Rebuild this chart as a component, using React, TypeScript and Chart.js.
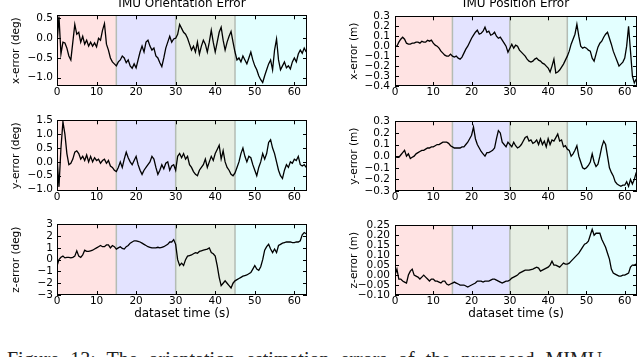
import React, { useEffect, useRef } from "react";
import { Chart, registerables } from "chart.js";

Chart.register(...registerables);

const FONT = "'DejaVu Sans', sans-serif";
const TIME_STEP = 0.5;
const X_MIN = 0;
const X_MAX = 63.2;
const X_TICKS = [0, 10, 20, 30, 40, 50, 60];
const X_LABEL = "dataset time (s)";
const REGION_EDGES = [0, 15, 30, 45, 63.2];
const REGION_COLORS = ["#ffe3e3", "#e3e3ff", "#e6eee3", "#e3ffff"];
const SEPARATOR_COLOR = "#b4bcb4";

const TITLE_LEFT = "IMU Orientation Error";
const TITLE_RIGHT = "IMU Position Error";
const CAPTION = "Figure 13: The orientation estimation errors of the proposed MIMU";

// sampled every 0.5 s from t = 0
const ORIENT_X_ERR = [
  -0.15, 0.55, -0.4, -0.1, -0.12, -0.25, -0.45, -0.55, -0.1, 0.35,
  0.1, 0.15, -0.1, 0.05, -0.15, -0.05, -0.2, -0.1, -0.2, -0.12,
  -0.22, 0.0, -0.05, 0.2, 0.37, -0.15, -0.3, -0.5, -0.6, -0.65,
  -0.7, -0.6, -0.55, -0.45, -0.5, -0.62, -0.55, -0.7, -0.76, -0.65,
  -0.75, -0.55, -0.35, -0.2, -0.35, -0.1, -0.05, -0.2, -0.3, -0.25,
  -0.45, -0.5, -0.62, -0.72, -0.5, -0.25, -0.1, 0.05, -0.1, -0.02,
  0.0, 0.1, 0.35, 0.25, 0.15, 0.1, 0.0, -0.15, -0.3, -0.2,
  -0.35, -0.1, -0.4, -0.2, -0.05, -0.15, -0.35, -0.1, 0.2, -0.1,
  -0.35, -0.1, 0.15, 0.28, -0.05, -0.3, -0.1, 0.05, 0.17, -0.1,
  -0.35, -0.55, -0.5, -0.6, -0.45, -0.55, -0.65, -0.5, -0.35, -0.55,
  -0.7, -0.8, -0.95, -1.05, -1.12, -0.95, -0.8, -0.65, -0.55, -0.8,
  -0.3, -0.02, -0.55, -0.8, -0.7, -0.6, -0.75, -0.7, -0.78, -0.6,
  -0.5, -0.6, -0.4, -0.3, -0.38, -0.25, -0.35,
];
const ORIENT_Y_ERR = [
  0.18, -0.9, 0.5, 1.45, 1.0, 0.3, -0.1, -0.05, 0.1, 0.35,
  0.4, 0.3, 0.1, 0.2, 0.05, 0.25, 0.0, 0.2, 0.0, 0.15,
  0.05, 0.1, -0.05, 0.05, 0.1, -0.05, 0.05, -0.15, -0.2, -0.3,
  -0.35, -0.2, 0.0, -0.2, 0.1, 0.35, 0.15, 0.0, -0.1, 0.05,
  0.2, -0.1, -0.3, -0.45, -0.3, -0.2, -0.1, 0.0, 0.2, 0.1,
  -0.2, -0.45, -0.3, -0.1, -0.25, -0.05, 0.0, -0.3, -0.15, -0.1,
  -0.3, 0.2, 0.3, 0.15, 0.3, 0.1, 0.2, -0.1, -0.2, -0.35,
  -0.45, -0.5, -0.3, -0.2, -0.1, 0.1, -0.2, 0.0, 0.2, 0.05,
  0.3, 0.45, 0.6, 0.1, 0.4, 0.0, -0.2, -0.3, -0.45, -0.5,
  -0.4, -0.2, 0.0, 0.3, 0.5, 0.2, 0.0, 0.2, 0.15, -0.1,
  -0.3, -0.5, -0.2, 0.0, 0.3, 0.1, 0.3, 0.7, 0.8, 0.5,
  0.3, 0.0, -0.3, -0.5, -0.6, -0.3, -0.1, -0.2, 0.0, -0.05,
  0.1, 0.05, 0.2, -0.1, -0.15, -0.1, -0.2,
];
const ORIENT_Z_ERR = [
  -0.55, 0.0, 0.2, 0.3, 0.15, 0.2, 0.2, 0.15, 0.2, 0.3,
  0.75, 0.3, 0.2, 0.4, 0.8, 0.7, 0.7, 0.75, 0.8, 0.9,
  1.0, 1.1, 1.2, 1.1, 1.1, 1.25, 1.25, 1.0, 1.2, 1.1,
  0.9, 1.0, 1.1, 0.95, 0.9, 1.1, 1.2, 1.4, 1.5, 1.6,
  1.6, 1.55, 1.5, 1.4, 1.3, 1.2, 1.1, 1.05, 1.0, 1.0,
  1.0, 1.05, 1.0, 1.05, 1.1, 1.2, 1.3, 1.5, 1.5, 1.7,
  1.3, 0.0, -0.5, -0.3, -0.5, 0.0, 0.3, 0.35, 0.4, 0.5,
  0.6, 0.55, 0.7, 0.75, 0.8, 0.85, 0.9, 1.0, 0.6, 0.5,
  0.3, -0.5, -1.5, -2.2, -2.0, -1.8, -2.0, -2.2, -2.4, -2.0,
  -1.8, -1.7, -1.6, -1.5, -1.4, -1.35, -1.3, -1.2, -1.1, -0.8,
  -0.5, -0.8, -0.9, -0.6, 0.0, 0.8, 1.1, 1.3, 0.9, 0.6,
  0.9, 0.6, 1.2, 1.3, 1.4, 1.45, 1.5, 1.5, 1.5, 1.45,
  1.45, 1.5, 1.5, 1.6, 2.1, 2.3, 2.2,
];
const POS_X_ERR = [
  0.0, 0.0, 0.04, 0.07, 0.09, 0.07, 0.03, 0.02, 0.02, 0.03,
  0.03, 0.04, 0.04, 0.03, 0.05, 0.04, 0.04, 0.06, 0.05, 0.06,
  0.03, 0.01, 0.0, -0.02, -0.05, -0.07, -0.09, -0.1, -0.1, -0.08,
  -0.1, -0.11, -0.1, -0.12, -0.13, -0.11, -0.07, -0.03, 0.0, 0.04,
  0.08, 0.11, 0.14, 0.16, 0.12, 0.13, 0.15, 0.19, 0.14, 0.15,
  0.11, 0.12, 0.14, 0.1, 0.08, 0.09, 0.06, 0.03, 0.0, -0.06,
  -0.02, 0.02, -0.02, 0.01, 0.0, -0.04, -0.06, -0.08, -0.1, -0.13,
  -0.15, -0.16, -0.15, -0.13, -0.12, -0.14, -0.15, -0.17, -0.18, -0.2,
  -0.22, -0.26, -0.2, -0.13, -0.27, -0.26, -0.24, -0.21, -0.18, -0.14,
  -0.1, -0.05, 0.02, 0.07, 0.12, 0.22, 0.1, 0.0, -0.02, -0.01,
  -0.02, -0.04, -0.05, -0.12, -0.15, -0.08, -0.01, 0.03, 0.05, 0.09,
  0.12, 0.14, 0.08, 0.02, -0.05, -0.1, -0.15, -0.2, -0.18, -0.16,
  -0.12, 0.0, 0.2, -0.05, -0.3, -0.37, -0.33,
];
const POS_Y_ERR = [
  0.0, -0.01, -0.01, 0.01, 0.03, 0.05, 0.0, 0.02, -0.02, -0.01,
  0.0, 0.02, 0.03, 0.04, 0.05, 0.05, 0.06, 0.07, 0.07, 0.08,
  0.08, 0.09, 0.1, 0.1, 0.11, 0.12, 0.12, 0.12, 0.11, 0.09,
  0.08, 0.07, 0.07, 0.07, 0.07, 0.08, 0.08, 0.1, 0.12, 0.15,
  0.18, 0.25, 0.15, 0.1, 0.07, 0.04, 0.02, 0.0, 0.03, 0.03,
  0.04, 0.05, 0.07, 0.15, 0.22, 0.2, 0.12, 0.1, 0.08, 0.12,
  0.1, 0.08, 0.12, 0.09, 0.07, 0.08, 0.1, 0.13, 0.16, 0.17,
  0.13, 0.14, 0.11, 0.12, 0.14, 0.1, 0.15, 0.1, 0.13, 0.08,
  0.15, 0.1, 0.14, 0.13, 0.16, 0.19, 0.13, 0.14, 0.08, 0.09,
  0.06, 0.05, 0.0, 0.02, 0.05, 0.09, 0.0, -0.05, -0.1, -0.11,
  -0.1, -0.08, -0.05, 0.02, -0.05, -0.09, -0.07, 0.0, 0.08, 0.13,
  0.1, 0.0, -0.1, -0.14, -0.17, -0.22, -0.24, -0.25, -0.26, -0.25,
  -0.25, -0.22, -0.26, -0.2, -0.24, -0.2, -0.14,
];
const POS_Z_ERR = [
  0.0, 0.03, -0.02, -0.02, -0.03, -0.035, -0.04, 0.0, 0.02, 0.03,
  0.0, -0.005, -0.01, -0.02, -0.01, 0.0, -0.01, -0.02, -0.03, -0.02,
  -0.02, -0.03, -0.03, -0.035, -0.04, -0.03, -0.03, -0.045, -0.05, -0.045,
  -0.04, -0.035, -0.04, -0.045, -0.05, -0.05, -0.05, -0.055, -0.06, -0.055,
  -0.05, -0.045, -0.04, -0.03, -0.03, -0.03, -0.035, -0.03, -0.03, -0.03,
  -0.025, -0.02, -0.02, -0.025, -0.03, -0.035, -0.04, -0.035, -0.03, -0.03,
  -0.025, -0.015, -0.01, -0.005, 0.0, 0.01, 0.015, 0.02, 0.025, 0.025,
  0.025, 0.028, 0.03, 0.035, 0.04, 0.035, 0.02, 0.025, 0.03, 0.035,
  0.04, 0.05, 0.07, 0.05, 0.05, 0.045, 0.04, 0.05, 0.06, 0.055,
  0.055, 0.06, 0.07, 0.08, 0.09, 0.1, 0.11, 0.125, 0.14, 0.155,
  0.16, 0.17, 0.2, 0.23, 0.2, 0.21, 0.21, 0.21, 0.18, 0.16,
  0.14, 0.11, 0.08, 0.03, 0.01, 0.005, 0.0, -0.005, -0.005, 0.0,
  0.0, 0.005, 0.01, 0.04, 0.05, 0.05, 0.055,
];

const OX_TICKS = [-1.0, -0.5, 0.0, 0.5];
const OY_TICKS = [-1.0, -0.5, 0.0, 0.5, 1.0, 1.5];
const OZ_TICKS = [-3, -2, -1, 0, 1, 2, 3];
const PX_TICKS = [-0.4, -0.3, -0.2, -0.1, 0.0, 0.1, 0.2, 0.3];
const PY_TICKS = [-0.3, -0.2, -0.1, 0.0, 0.1, 0.2, 0.3];
const PZ_TICKS = [-0.1, -0.05, 0.0, 0.05, 0.1, 0.15, 0.2, 0.25];

const PANELS = [
  { values: ORIENT_X_ERR, yMin: -1.21, yMax: 0.58, yTicks: OX_TICKS, dec: 1, yLabel: "x-error (deg)", col: 0, row: 0 },
  { values: POS_X_ERR, yMin: -0.4, yMax: 0.3, yTicks: PX_TICKS, dec: 1, yLabel: "x-error (m)", col: 1, row: 0 },
  { values: ORIENT_Y_ERR, yMin: -1.05, yMax: 1.5, yTicks: OY_TICKS, dec: 1, yLabel: "y-error (deg)", col: 0, row: 1 },
  { values: POS_Y_ERR, yMin: -0.3, yMax: 0.3, yTicks: PY_TICKS, dec: 1, yLabel: "y-error (m)", col: 1, row: 1 },
  { values: ORIENT_Z_ERR, yMin: -3, yMax: 3, yTicks: OZ_TICKS, dec: 0, yLabel: "z-error (deg)", col: 0, row: 2 },
  { values: POS_Z_ERR, yMin: -0.1, yMax: 0.25, yTicks: PZ_TICKS, dec: 2, yLabel: "z-error (m)", col: 1, row: 2 },
];

const COLS = [
  { left: 0, width: 320, axisW: 57, padRight: 13, titlePad: 10, tickPad: 4 },
  { left: 320, width: 320, axisW: 75, padRight: 3, titlePad: 28, tickPad: 5 },
];
const ROWS = [
  { plotTop: 13, plotBottom: 86, xAxisH: 16, xTitle: false },
  { plotTop: 118, plotBottom: 191, xAxisH: 16, xTitle: false },
  { plotTop: 222, plotBottom: 295, xAxisH: 30, xTitle: true },
];
const PAD_TOP = 8;

const fmt = (v: number, dec: number) => {
  const s = Math.abs(v) < 1e-9 ? (0).toFixed(dec) : v.toFixed(dec);
  return s.replace("-", "\u2212");
};

const framePlugin = {
  id: "frameBands",
  beforeDatasetsDraw(chart: any) {
    const { ctx, chartArea: a, scales } = chart;
    const x = scales.x;
    ctx.save();
    ctx.beginPath();
    ctx.rect(a.left, a.top, a.right - a.left, a.bottom - a.top);
    ctx.clip();
    for (let i = 0; i < REGION_COLORS.length; i++) {
      const x0 = x.getPixelForValue(REGION_EDGES[i]);
      const x1 = x.getPixelForValue(REGION_EDGES[i + 1]);
      ctx.fillStyle = REGION_COLORS[i];
      ctx.fillRect(x0, a.top, x1 - x0, a.bottom - a.top);
    }
    ctx.strokeStyle = SEPARATOR_COLOR;
    ctx.lineWidth = 1.5;
    for (const e of REGION_EDGES.slice(1, -1)) {
      const px = x.getPixelForValue(e);
      ctx.beginPath();
      ctx.moveTo(px, a.top);
      ctx.lineTo(px, a.bottom);
      ctx.stroke();
    }
    ctx.restore();
  },
  afterDatasetsDraw(chart: any) {
    const { ctx, chartArea: a, scales } = chart;
    const TL = 4;
    ctx.save();
    ctx.strokeStyle = "#000";
    ctx.lineWidth = 1;
    ctx.beginPath();
    for (const t of scales.x.ticks) {
      const px = Math.round(scales.x.getPixelForValue(t.value)) + 0.5;
      ctx.moveTo(px, a.bottom);
      ctx.lineTo(px, a.bottom - TL);
      ctx.moveTo(px, a.top);
      ctx.lineTo(px, a.top + TL);
    }
    for (const t of scales.y.ticks) {
      const py = Math.round(scales.y.getPixelForValue(t.value)) + 0.5;
      ctx.moveTo(a.left, py);
      ctx.lineTo(a.left + TL, py);
      ctx.moveTo(a.right, py);
      ctx.lineTo(a.right - TL, py);
    }
    ctx.stroke();
    ctx.strokeRect(Math.round(a.left) + 0.5, Math.round(a.top) + 0.5, Math.round(a.right - a.left) - 1, Math.round(a.bottom - a.top) - 1);
    ctx.restore();
  },
};

function Panel({ p }: { p: any }) {
  const ref = useRef<HTMLCanvasElement>(null);
  const col = COLS[p.col];
  const row = ROWS[p.row];
  const w = col.width;
  const h = PAD_TOP + (row.plotBottom - row.plotTop) + row.xAxisH;

  useEffect(() => {
    const chart = new Chart(ref.current as HTMLCanvasElement, {
      type: "line",
      data: {
        datasets: [
          {
            data: p.values.map((v: number, i: number) => ({ x: i * TIME_STEP, y: v })),
            borderColor: "#000",
            borderWidth: 1.3,
            pointRadius: 0,
            tension: 0,
            fill: false,
          },
        ],
      },
      options: {
        animation: false,
        responsive: false,
        devicePixelRatio: 1,
        events: [],
        layout: { padding: { top: PAD_TOP, right: col.padRight, left: 0, bottom: 0 } },
        plugins: { legend: { display: false }, tooltip: { enabled: false }, title: { display: false } },
        scales: {
          x: {
            type: "linear",
            min: X_MIN,
            max: X_MAX,
            bounds: "data",
            grid: { display: false, drawTicks: false },
            border: { display: false },
            ticks: {
              autoSkip: false,
              maxRotation: 0,
              padding: 0,
              color: "#000",
              font: { family: FONT, size: 10.5 },
              callback: (v: any) => String(v),
            },
            afterBuildTicks: (axis: any) => {
              axis.ticks = X_TICKS.map((value) => ({ value }));
            },
            afterFit: (axis: any) => {
              axis.height = row.xAxisH;
            },
            title: {
              display: row.xTitle,
              text: X_LABEL,
              color: "#000",
              font: { family: FONT, size: 12 },
              padding: { top: 0, bottom: 4 },
            },
          },
          y: {
            type: "linear",
            min: p.yMin,
            max: p.yMax,
            bounds: "data",
            grid: { display: false, drawTicks: false },
            border: { display: false },
            ticks: {
              autoSkip: false,
              padding: col.tickPad,
              color: "#000",
              font: { family: FONT, size: 10.5 },
              callback: (v: any) => fmt(Number(v), p.dec),
            },
            afterBuildTicks: (axis: any) => {
              axis.ticks = p.yTicks.map((value: number) => ({ value }));
            },
            afterFit: (axis: any) => {
              axis.width = col.axisW;
            },
            title: {
              display: true,
              text: p.yLabel,
              color: "#000",
              font: { family: FONT, size: 10.5 },
              padding: { top: col.titlePad, bottom: 0 },
            },
          },
        },
      } as any,
      plugins: [framePlugin],
    });
    return () => chart.destroy();
  }, []);

  return (
    <canvas
      ref={ref}
      width={w}
      height={h}
      style={{ position: "absolute", left: col.left, top: row.plotTop - PAD_TOP, width: w, height: h }}
    />
  );
}

export default function App() {
  const titleStyle: React.CSSProperties = {
    position: "absolute",
    top: -4,
    height: 14,
    lineHeight: "14px",
    fontFamily: FONT,
    fontSize: 12,
    color: "#000",
    textAlign: "center",
    whiteSpace: "nowrap",
  };
  return (
    <div
      style={{
        position: "fixed",
        left: 0,
        top: 0,
        width: 640,
        height: 357,
        background: "#fff",
        overflow: "hidden",
      }}
    >
      {PANELS.map((p, i) => (
        <Panel key={i} p={p} />
      ))}
      <div style={{ ...titleStyle, left: 57, width: 250 }}>{TITLE_LEFT}</div>
      <div style={{ ...titleStyle, left: 395, width: 242 }}>{TITLE_RIGHT}</div>
      <div
        style={{
          position: "absolute",
          left: 7,
          top: 349,
          fontFamily: "'Liberation Serif', serif",
          fontSize: 20,
          lineHeight: "20px",
          color: "#222",
          whiteSpace: "nowrap",
          wordSpacing: 6,
        }}
      >
        {CAPTION}
      </div>
    </div>
  );
}
